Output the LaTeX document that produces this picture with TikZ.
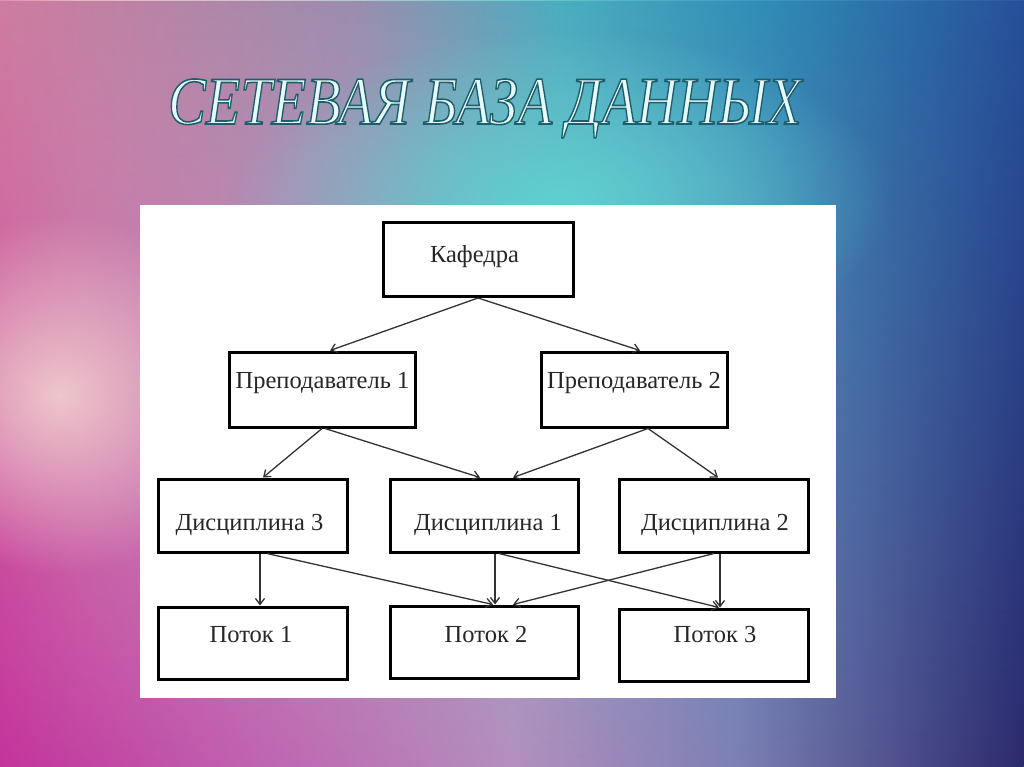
\documentclass[tikz,border=0pt]{standalone}
\usepackage{fontspec}
\setmainfont{Liberation Serif}
\usetikzlibrary{arrows.meta,fadings}
\definecolor{tA}{HTML}{CF7DA0}\definecolor{tB}{HTML}{9A8EAE}\definecolor{tC}{HTML}{4AAFC0}
\definecolor{tD}{HTML}{2F8CB6}\definecolor{tE}{HTML}{27509A}
\definecolor{mA}{HTML}{E28FB0}\definecolor{mB}{HTML}{E9B8C2}\definecolor{mC}{HTML}{C9C5D0}
\definecolor{mD}{HTML}{6FCCCC}\definecolor{mE}{HTML}{3E98C6}\definecolor{mF}{HTML}{2A5AA3}
\definecolor{bA}{HTML}{C3349B}\definecolor{bB}{HTML}{C063B0}\definecolor{bC}{HTML}{B48FBE}
\definecolor{bD}{HTML}{7D80B4}\definecolor{bE}{HTML}{2C2A6D}
\definecolor{glowteal}{HTML}{5ED0D0}\definecolor{glowpink}{HTML}{EEC6CB}
\definecolor{titlefill}{HTML}{E6FAFA}\definecolor{titleshadow}{HTML}{1D5E6C}
\pgfdeclarehorizontalshading{topsh}{100bp}{color(0bp)=(tA); color(25bp)=(tA); color(42.5bp)=(tB); color(52.5bp)=(tC); color(62.5bp)=(tD); color(75bp)=(tE); color(100bp)=(tE)}
\pgfdeclarehorizontalshading{midsh}{100bp}{color(0bp)=(mA); color(25bp)=(mA); color(29bp)=(mB); color(40bp)=(mC); color(50bp)=(mD); color(62.5bp)=(mE); color(75bp)=(mF); color(100bp)=(mF)}
\pgfdeclarehorizontalshading{botsh}{100bp}{color(0bp)=(bA); color(25bp)=(bA); color(37.5bp)=(bB); color(50bp)=(bC); color(61bp)=(bD); color(75bp)=(bE); color(100bp)=(bE)}
\tikzfading[name=fadetop, top color=transparent!0, middle color=transparent!100, bottom color=transparent!100]
\tikzfading[name=fadebot, top color=transparent!100, middle color=transparent!100, bottom color=transparent!0]
\tikzfading[name=softglow, inner color=transparent!0, outer color=transparent!100]
\tikzset{
  box/.style={draw=black, line width=3pt, fill=white, inner sep=0pt},
  lbl/.style={font=\fontsize{24.5}{28}\selectfont, text=black!85, inner sep=0pt, anchor=base},
  arr/.style={draw=black!80, line width=1.3pt, -{Straight Barb[length=6pt,width=9pt,line width=1.3pt]}},
}
\begin{document}
\begin{tikzpicture}[x=1pt,y=-1pt]
\useasboundingbox (0,0) rectangle (1024,767);
\shade[shading=midsh] (0,0) rectangle (1024,767);
\shade[shading=topsh, path fading=fadetop] (0,0) rectangle (1024,767);
\shade[shading=botsh, path fading=fadebot] (0,0) rectangle (1024,767);
\fill[glowteal, path fading=softglow] (560,200) ellipse [x radius=330, y radius=170];
\fill[glowpink, path fading=softglow] (60,395) ellipse [x radius=190, y radius=180];
% title
\node[anchor=base, inner sep=0pt, xscale=0.83, text=titlefill,
      font=\fontsize{68}{70}\selectfont\itshape] (title) at (485,124)
      {\special{pdf:code 2 Tr 1.6 w 0.114 0.369 0.424 RG}СЕТЕВАЯ БАЗА ДАННЫХ\special{pdf:code 0 Tr}};
% panel
\fill[white] (140,205) rectangle (836,698);
% boxes
\node[box, minimum width=190pt, minimum height=74pt] (kaf) at (478,259.5) {};
\node[box, minimum width=186pt, minimum height=75pt] (pr1) at (322,389.5) {};
\node[box, minimum width=186pt, minimum height=75pt] (pr2) at (634,389.5) {};
\node[box, minimum width=189pt, minimum height=73pt] (d3) at (252.5,515.5) {};
\node[box, minimum width=188pt, minimum height=73pt] (d1) at (484,515.5) {};
\node[box, minimum width=189pt, minimum height=73pt] (d2) at (713.5,515.5) {};
\node[box, minimum width=189pt, minimum height=72pt] (p1) at (252.5,643) {};
\node[box, minimum width=188pt, minimum height=72pt] (p2) at (484,642) {};
\node[box, minimum width=189pt, minimum height=72pt] (p3) at (713.5,645) {};
% labels
\node[lbl] (tkaf) at (474.5,262) {Кафедра};
\node[lbl] (tpr1) at (322.5,388) {Преподаватель 1};
\node[lbl] (tpr2) at (634,388) {Преподаватель 2};
\node[lbl] (td3) at (249.5,530) {Дисциплина 3};
\node[lbl] (td1) at (488,530) {Дисциплина 1};
\node[lbl] (td2) at (715,530) {Дисциплина 2};
\node[lbl] (tp1) at (251,642) {Поток 1};
\node[lbl] (tp2) at (486,642) {Поток 2};
\node[lbl] (tp3) at (715,642) {Поток 3};
% connectors
\draw[arr] (kaf.south) -- ([xshift=8pt]pr1.north);
\draw[arr] (kaf.south) -- ([xshift=6pt]pr2.north);
\draw[arr] (pr1.south) -- ([xshift=10.5pt]d3.north);
\draw[arr] ([xshift=3pt]pr1.south) -- ([xshift=-4pt]d1.north);
\draw[arr] ([xshift=14pt]pr2.south) -- ([xshift=29pt]d1.north);
\draw[arr] ([xshift=14pt]pr2.south) -- ([xshift=4.5pt]d2.north);
\draw[arr] ([xshift=7.5pt]d3.south) -- ([xshift=7.5pt]p1.north);
\draw[arr] ([xshift=14.5pt]d3.south) -- ([xshift=9pt]p2.north);
\draw[arr] ([xshift=11pt]d1.south) -- ([xshift=11pt]p2.north);
\draw[arr] ([xshift=15pt]d1.south) -- ([xshift=5.5pt]p3.north);
\draw[arr] ([xshift=0.5pt]d2.south) -- ([xshift=29pt]p2.north);
\draw[arr] ([xshift=6.5pt]d2.south) -- ([xshift=6.5pt]p3.north);
\end{tikzpicture}
\end{document}
